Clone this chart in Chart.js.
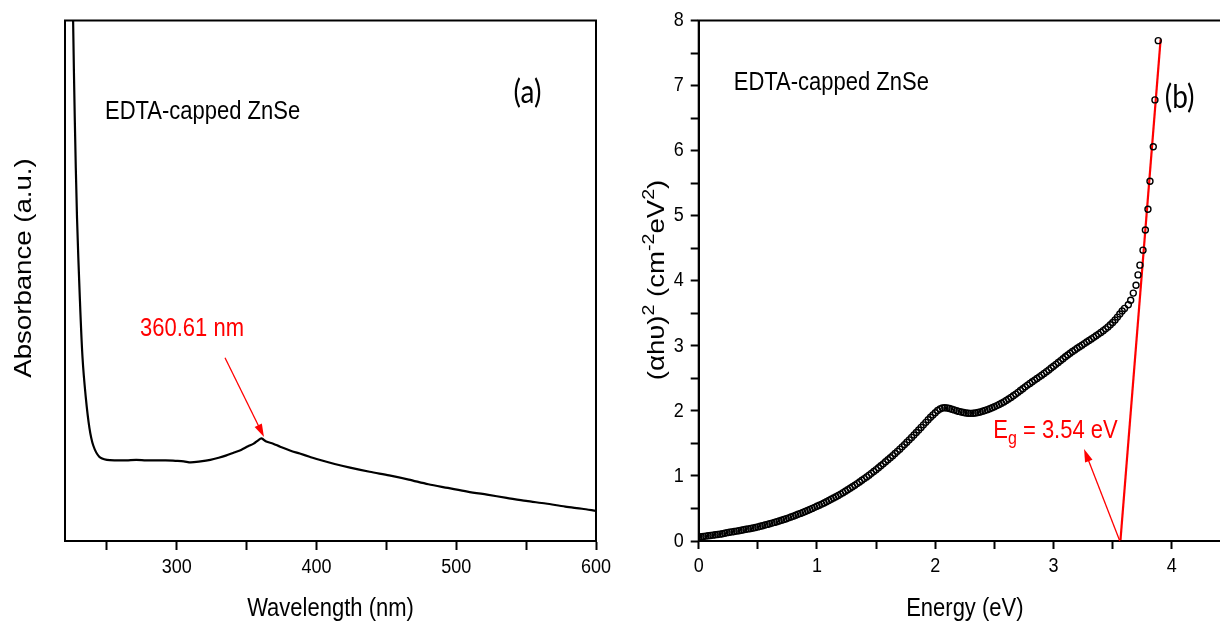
<!DOCTYPE html>
<html>
<head>
<meta charset="utf-8">
<script src="https://cdn.jsdelivr.net/npm/chart.js@4"></script>
<style>
  html, body { margin: 0; padding: 0; background: #fff; overflow: hidden; width: 1220px; height: 621px; }
  canvas { position: absolute; top: 0; }
  #absChart { left: 0; }
  #taucChart { left: 610px; }
</style>
</head>
<body>
<canvas id="absChart" width="620" height="621"></canvas>
<canvas id="taucChart" width="640" height="621"></canvas>
<script>
const FONT = '"Liberation Sans", Arial, sans-serif';
const LABEL_FONT = 'Lato, "Open Sans", sans-serif';
const STRETCH = 1.15; // the source figure's text is taller than it is wide

// (a) UV-vis absorbance
const wavelength = [225.4, 225.8, 227.0, 228.6, 230.6, 232.5, 234.8, 237.5, 240.3, 244.5, 250, 257, 264, 271, 278, 285, 292, 299, 305, 310,
  317, 324, 330, 335, 341, 346, 351, 355, 358, 360.6, 364, 369, 374, 381, 388, 395, 402, 413, 424, 438,
  452, 466, 480, 494, 508, 522, 536, 550, 564, 578, 590, 600];
const absorbance = [1.1, 1.0, 0.811, 0.621, 0.468, 0.354, 0.278, 0.217, 0.183, 0.162, 0.156, 0.155, 0.155, 0.156, 0.155, 0.155, 0.155, 0.154, 0.153, 0.151,
  0.153, 0.156, 0.16, 0.164, 0.17, 0.175, 0.182, 0.187, 0.193, 0.197, 0.191, 0.187, 0.181, 0.174, 0.168, 0.162, 0.156, 0.148, 0.141, 0.133,
  0.126, 0.118, 0.109, 0.102, 0.095, 0.089, 0.083, 0.077, 0.072, 0.066, 0.062, 0.058];

// (b) Tauc plot
const energy = [
  0.00, 0.02, 0.04, 0.06, 0.08, 0.10, 0.12, 0.14, 0.16, 0.18, 0.20, 0.22, 0.24, 0.26, 0.28, 0.30, 0.32, 0.34, 0.36, 0.38,
  0.40, 0.42, 0.44, 0.46, 0.48, 0.50, 0.52, 0.54, 0.56, 0.58, 0.60, 0.62, 0.64, 0.66, 0.68, 0.70, 0.72, 0.74, 0.76, 0.78,
  0.80, 0.82, 0.84, 0.86, 0.88, 0.90, 0.92, 0.94, 0.96, 0.98, 1.00, 1.02, 1.04, 1.06, 1.08, 1.10, 1.12, 1.14, 1.16, 1.18,
  1.20, 1.22, 1.24, 1.26, 1.28, 1.30, 1.32, 1.34, 1.36, 1.38, 1.40, 1.42, 1.44, 1.46, 1.48, 1.50, 1.52, 1.54, 1.56, 1.58,
  1.60, 1.62, 1.64, 1.66, 1.68, 1.70, 1.72, 1.74, 1.76, 1.78, 1.80, 1.82, 1.84, 1.86, 1.88, 1.90, 1.92, 1.94, 1.96, 1.98,
  2.00, 2.02, 2.04, 2.06, 2.08, 2.10, 2.12, 2.14, 2.16, 2.18, 2.20, 2.22, 2.24, 2.26, 2.28, 2.30, 2.32, 2.34, 2.36, 2.38,
  2.40, 2.42, 2.44, 2.46, 2.48, 2.50, 2.52, 2.54, 2.56, 2.58, 2.60, 2.62, 2.64, 2.66, 2.68, 2.70, 2.72, 2.74, 2.76, 2.78,
  2.80, 2.82, 2.84, 2.86, 2.88, 2.90, 2.92, 2.94, 2.96, 2.98, 3.00, 3.02, 3.04, 3.06, 3.08, 3.10, 3.12, 3.14, 3.16, 3.18,
  3.20, 3.22, 3.24, 3.26, 3.28, 3.30, 3.32, 3.34, 3.36, 3.38, 3.40, 3.42, 3.44, 3.46, 3.48, 3.50, 3.52, 3.54, 3.56, 3.58,
  3.60, 3.632, 3.652, 3.674, 3.697, 3.714, 3.73, 3.756, 3.776, 3.798, 3.815, 3.843, 3.857, 3.885];
const tauc = [
  0.060, 0.065, 0.070, 0.075, 0.080, 0.085, 0.090, 0.095, 0.100, 0.105, 0.112, 0.120, 0.128, 0.134, 0.140, 0.146, 0.152, 0.158, 0.165, 0.172,
  0.180, 0.186, 0.193, 0.200, 0.208, 0.217, 0.226, 0.235, 0.245, 0.255, 0.265, 0.275, 0.286, 0.297, 0.308, 0.319, 0.330, 0.343, 0.356, 0.369,
  0.382, 0.396, 0.410, 0.424, 0.439, 0.454, 0.469, 0.485, 0.501, 0.517, 0.533, 0.550, 0.567, 0.585, 0.603, 0.622, 0.641, 0.660, 0.680, 0.700,
  0.721, 0.743, 0.765, 0.787, 0.810, 0.834, 0.858, 0.882, 0.907, 0.933, 0.959, 0.985, 1.012, 1.040, 1.068, 1.097, 1.126, 1.156, 1.186, 1.217,
  1.248, 1.280, 1.312, 1.345, 1.378, 1.412, 1.447, 1.482, 1.518, 1.555, 1.592, 1.630, 1.668, 1.707, 1.746, 1.785, 1.824, 1.863, 1.901, 1.938,
  1.972, 2.005, 2.030, 2.045, 2.048, 2.044, 2.036, 2.026, 2.015, 2.003, 1.992, 1.982, 1.974, 1.968, 1.964, 1.962, 1.963, 1.967, 1.974, 1.983,
  1.994, 2.006, 2.019, 2.033, 2.048, 2.064, 2.081, 2.099, 2.118, 2.138, 2.160, 2.183, 2.207, 2.232, 2.258, 2.285, 2.313, 2.341, 2.369, 2.396,
  2.422, 2.448, 2.473, 2.498, 2.523, 2.549, 2.576, 2.603, 2.630, 2.658, 2.686, 2.715, 2.744, 2.773, 2.802, 2.831, 2.859, 2.886, 2.912, 2.937,
  2.962, 2.986, 3.010, 3.034, 3.058, 3.082, 3.106, 3.130, 3.155, 3.180, 3.206, 3.233, 3.261, 3.291, 3.323, 3.358, 3.397, 3.441, 3.490, 3.535,
  3.575, 3.63, 3.70, 3.81, 3.93, 4.09, 4.24, 4.47, 4.78, 5.10, 5.53, 6.06, 6.78, 7.69];

// linear fit for the band gap
const fitEnergy = [3.565, 3.905];
const fitValue = [0, 7.71];

const xy = (xs, ys) => xs.map((v, i) => ({ x: v, y: ys[i] }));

// every text on the canvas gets the same vertical stretch, in page space
function stretchText(canvas) {
  const ctx = canvas.getContext('2d');
  const orig = ctx.fillText.bind(ctx);
  ctx.fillText = function (text, x, y, maxWidth) {
    const m = ctx.getTransform();
    const p = m.transformPoint(new DOMPoint(x, y));
    ctx.save();
    ctx.setTransform(new DOMMatrix().translate(p.x, p.y).scale(1, STRETCH).translate(-p.x, -p.y).multiply(m));
    if (maxWidth === undefined) orig(text, x, y); else orig(text, x, y, maxWidth);
    ctx.restore();
  };
}

// k = how much longer the text runs on the page (rotated text is stretched along its length)
function drawParts(ctx, parts, font, smallFont, x, y, k = 1) {
  let px = x;
  parts.forEach(p => {
    ctx.font = p.sub || p.sup ? smallFont : font;
    ctx.fillText(p.s, px, y + (p.sub ? 8 : p.sup ? -8 : 0));
    px += ctx.measureText(p.s).width * k;
  });
}
function partsWidth(ctx, parts, font, smallFont) {
  return parts.reduce((w, p) => { ctx.font = p.sub || p.sup ? smallFont : font; return w + ctx.measureText(p.s).width; }, 0);
}

// frame, side title, text and arrows (text/arrows placed in data units)
const notes = {
  id: 'notes',
  afterDraw(chart, args, opts) {
    const { ctx, chartArea: a, scales: { x, y } } = chart;
    ctx.save();
    ctx.strokeStyle = '#000';
    ctx.lineWidth = 2;
    ctx.strokeRect(a.left, a.top, a.right - a.left, a.bottom - a.top);
    ctx.textAlign = 'left';
    ctx.textBaseline = 'middle';
    if (opts.yTitle) {
      const t = opts.yTitle;
      const w = partsWidth(ctx, t.parts, t.font, t.smallFont) * STRETCH;
      ctx.save();
      ctx.translate(t.cx, t.cy);
      ctx.rotate(-Math.PI / 2);
      ctx.fillStyle = '#000';
      drawParts(ctx, t.parts, t.font, t.smallFont, -w / 2, 0, STRETCH);
      ctx.restore();
    }
    (opts.texts || []).forEach(t => {
      ctx.fillStyle = t.color || '#000';
      drawParts(ctx, t.parts, t.font, t.smallFont, x.getPixelForValue(t.x), y.getPixelForValue(t.y));
    });
    (opts.arrows || []).forEach(ar => {
      const x0 = x.getPixelForValue(ar.from[0]), y0 = y.getPixelForValue(ar.from[1]);
      const x1 = x.getPixelForValue(ar.to[0]), y1 = y.getPixelForValue(ar.to[1]);
      const c = Math.cos(Math.atan2(y1 - y0, x1 - x0)), s = Math.sin(Math.atan2(y1 - y0, x1 - x0));
      ctx.strokeStyle = ctx.fillStyle = '#ff0000';
      ctx.lineWidth = 1.3;
      ctx.beginPath();
      ctx.moveTo(x0, y0);
      ctx.lineTo(x1 - 8 * c, y1 - 8 * s);
      ctx.stroke();
      ctx.beginPath();
      ctx.moveTo(x1, y1);
      ctx.lineTo(x1 - 13 * c + 4 * s, y1 - 13 * s - 4 * c);
      ctx.lineTo(x1 - 13 * c - 4 * s, y1 - 13 * s + 4 * c);
      ctx.closePath();
      ctx.fill();
    });
    ctx.restore();
  }
};

const tickFont = { family: FONT, size: 18 };
const titleFont = { family: FONT, size: 22, lineHeight: 1 };
const textFont = '22px ' + FONT;
const intLabel = v => Number.isInteger(v) ? String(v) : '';

const absCanvas = document.getElementById('absChart');
const taucCanvas = document.getElementById('taucChart');
stretchText(absCanvas);
stretchText(taucCanvas);

new Chart(absCanvas, {
  type: 'line',
  data: {
    datasets: [{
      data: xy(wavelength, absorbance),
      borderColor: '#000',
      borderWidth: 2.2,
      pointRadius: 0,
      tension: 0.3,
      fill: false
    }]
  },
  options: {
    responsive: false,
    animation: false,
    layout: { padding: { left: 0, right: 24, top: 20.5, bottom: 0 } },
    plugins: {
      legend: { display: false },
      tooltip: { enabled: false },
      notes: {
        yTitle: { cx: 24, cy: 268, font: '24px ' + FONT, parts: [{ s: 'Absorbance (a.u.)' }] },
        texts: [
          { x: 248.6, y: 0.824, font: textFont, parts: [{ s: 'EDTA-capped ZnSe' }] },
          { x: 541, y: 0.862, font: '28px ' + LABEL_FONT, parts: [{ s: '(a)' }] },
          { x: 273.7, y: 0.407, color: '#ff0000', font: textFont, parts: [{ s: '360.61 nm' }] }
        ],
        arrows: [{ from: [334.5, 0.352], to: [362.4, 0.2] }]
      }
    },
    scales: {
      x: {
        type: 'linear', min: 220, max: 600,
        ticks: { stepSize: 50, includeBounds: false, autoSkip: false, maxRotation: 0, color: '#000', font: tickFont, padding: 6,
          callback: v => v % 100 === 0 ? String(v) : '' },
        grid: { drawOnChartArea: false, tickLength: 9, tickWidth: 2, tickColor: '#000' },
        border: { color: '#000', width: 2 },
        title: { display: true, text: 'Wavelength (nm)', color: '#000', font: titleFont, padding: { top: 0, bottom: 1 } },
        afterFit: s => { s.height = 80; }
      },
      y: {
        type: 'linear', min: 0, max: 1,
        ticks: { display: false },
        grid: { display: false },
        border: { color: '#000', width: 2 },
        afterFit: s => { s.width = 65; }
      }
    }
  },
  plugins: [notes]
});

new Chart(taucCanvas, {
  type: 'scatter',
  data: {
    datasets: [{
      data: xy(energy, tauc),
      pointStyle: 'circle',
      pointRadius: 3,
      pointBorderWidth: 1.4,
      pointBorderColor: '#000',
      pointBackgroundColor: 'rgba(0,0,0,0)'
    }, {
      data: xy(fitEnergy, fitValue),
      showLine: true,
      borderColor: '#ff0000',
      borderWidth: 2.2,
      pointRadius: 0
    }]
  },
  options: {
    responsive: false,
    animation: false,
    layout: { padding: { left: 0, right: 19, top: 20.5, bottom: 0 } },
    plugins: {
      legend: { display: false },
      tooltip: { enabled: false },
      notes: {
        yTitle: { cx: 47, cy: 280, font: '24px ' + FONT, smallFont: '17px ' + FONT,
          parts: [{ s: '(αhυ)' }, { s: '2', sup: true }, { s: ' (cm' }, { s: '-2', sup: true }, { s: 'eV' }, { s: '2', sup: true }, { s: ')' }] },
        texts: [
          { x: 0.296, y: 7.04, font: textFont, parts: [{ s: 'EDTA-capped ZnSe' }] },
          { x: 3.94, y: 6.82, font: '28px ' + LABEL_FONT, parts: [{ s: '(b)' }] },
          { x: 2.49, y: 1.69, color: '#ff0000', font: textFont, smallFont: '16px ' + FONT,
            parts: [{ s: 'E' }, { s: 'g', sub: true }, { s: ' = 3.54 eV' }] }
        ],
        arrows: [{ from: [3.56, 0], to: [3.258, 1.414] }]
      }
    },
    scales: {
      x: {
        type: 'linear', min: 0, max: 4.5,
        ticks: { stepSize: 0.5, autoSkip: false, maxRotation: 0, color: '#000', font: tickFont, padding: 6, callback: intLabel },
        grid: { drawOnChartArea: false, tickLength: 8, tickWidth: 2, tickColor: '#000' },
        border: { color: '#000', width: 2 },
        title: { display: true, text: 'Energy (eV)', color: '#000', font: titleFont, padding: { top: 0, bottom: 1 } },
        afterFit: s => { s.height = 80; }
      },
      y: {
        type: 'linear', min: 0, max: 8,
        ticks: { stepSize: 0.5, autoSkip: false, color: '#000', font: tickFont, padding: 7, callback: intLabel },
        grid: { drawOnChartArea: false, tickLength: 8, tickWidth: 2, tickColor: '#000' },
        border: { color: '#000', width: 2 },
        afterFit: s => { s.width = 88.7; }
      }
    }
  },
  plugins: [notes]
});
</script>
</body>
</html>
